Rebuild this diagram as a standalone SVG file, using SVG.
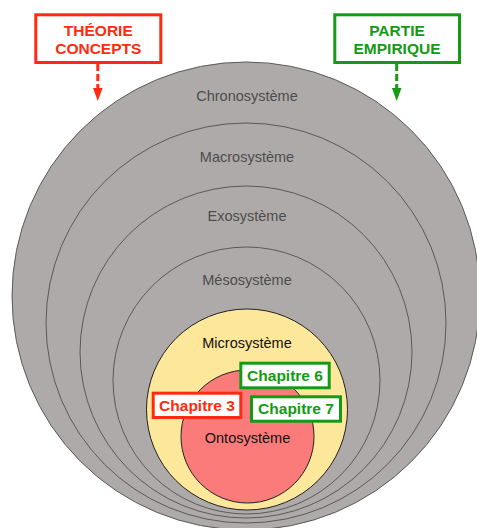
<svg xmlns="http://www.w3.org/2000/svg" width="477" height="528" viewBox="0 0 477 528">
<defs>
<style>
.ring{fill:#adaaa9;stroke:#5a5a5a;stroke-width:1}
.lbl{font-family:"Liberation Sans",Arial,sans-serif;font-size:14.5px;fill:#4d4d4d;text-anchor:middle}
.lblk{font-family:"Liberation Sans",Arial,sans-serif;font-size:14.5px;fill:#111;text-anchor:middle}
.bold{font-family:"Liberation Sans",Arial,sans-serif;font-size:15.5px;font-weight:bold;text-anchor:middle}
.red{fill:#ff2a10}
.green{fill:#149a14}
.boxr{fill:#fff;stroke:#ff2a10;stroke-width:3}
.boxg{fill:#fff;stroke:#149a14;stroke-width:3}
</style>
<marker id="ah-r" markerWidth="10" markerHeight="12" refX="5" refY="12" orient="auto-start-reverse" markerUnits="userSpaceOnUse" viewBox="0 0 10 12">
<path d="M0,0 L10,0 L5,12 Z" fill="#ff2a10"/>
</marker>
<marker id="ah-g" markerWidth="10" markerHeight="12" refX="5" refY="12" markerUnits="userSpaceOnUse" viewBox="0 0 10 12">
<path d="M0,0 L10,0 L5,12 Z" fill="#149a14"/>
</marker>
</defs>
<rect width="477" height="528" fill="#fff"/>

<g id="chronosysteme">
<circle class="ring" cx="246" cy="296" r="234"/>
<text class="lbl" x="247" y="101">Chronosystème</text>
</g>
<g id="macrosysteme">
<circle class="ring" cx="246" cy="323" r="200"/>
<text class="lbl" x="247" y="162">Macrosystème</text>
</g>
<g id="exosysteme">
<circle class="ring" cx="246" cy="352" r="166"/>
<text class="lbl" x="247" y="221">Exosystème</text>
</g>
<g id="mesosysteme">
<circle class="ring" cx="246.5" cy="380.5" r="133.5"/>
<text class="lbl" x="247" y="285">Mésosystème</text>
</g>
<g id="microsysteme">
<circle cx="247" cy="409.5" r="100.5" fill="#fde79b" stroke="#222" stroke-width="1"/>
<text class="lblk" x="247" y="348">Microsystème</text>
</g>
<g id="ontosysteme">
<circle cx="247.5" cy="436.5" r="66.5" fill="#fb7b7a" stroke="#222" stroke-width="1"/>
<text class="lblk" x="247.5" y="443">Ontosystème</text>
</g>

<g id="chapitre6">
<rect class="boxg" x="240.8" y="363.2" width="88.4" height="24.6"/>
<text class="bold green" x="285" y="381">Chapitre 6</text>
</g>
<g id="chapitre7">
<rect class="boxg" x="251.5" y="396.8" width="89" height="24.4"/>
<text class="bold green" x="296" y="413.5">Chapitre 7</text>
</g>
<g id="chapitre3">
<rect class="boxr" x="153.2" y="393.2" width="87.6" height="24.3"/>
<text class="bold red" x="197" y="410.8">Chapitre 3</text>
</g>

<g id="theorie">
<rect class="boxr" x="35.8" y="14.8" width="125" height="47.7"/>
<text class="bold red" x="98.3" y="36">THÉORIE</text>
<text class="bold red" x="98.3" y="54.3">CONCEPTS</text>
</g>
<g id="empirique">
<rect class="boxg" x="334.8" y="14.8" width="124.7" height="47.7"/>
<text class="bold green" x="397" y="36">PARTIE</text>
<text class="bold green" x="397" y="54.3">EMPIRIQUE</text>
</g>

<g id="connectors">
<line x1="97.8" y1="64" x2="97.8" y2="89" stroke="#ff2a10" stroke-width="3" stroke-dasharray="7 3"/>
<path d="M93,88 L102.6,88 L97.8,101 Z" fill="#ff2a10"/>
<line x1="396.7" y1="64" x2="396.7" y2="89" stroke="#149a14" stroke-width="3" stroke-dasharray="7 3"/>
<path d="M391.9,88 L401.5,88 L396.7,101 Z" fill="#149a14"/>
</g>
</svg>
